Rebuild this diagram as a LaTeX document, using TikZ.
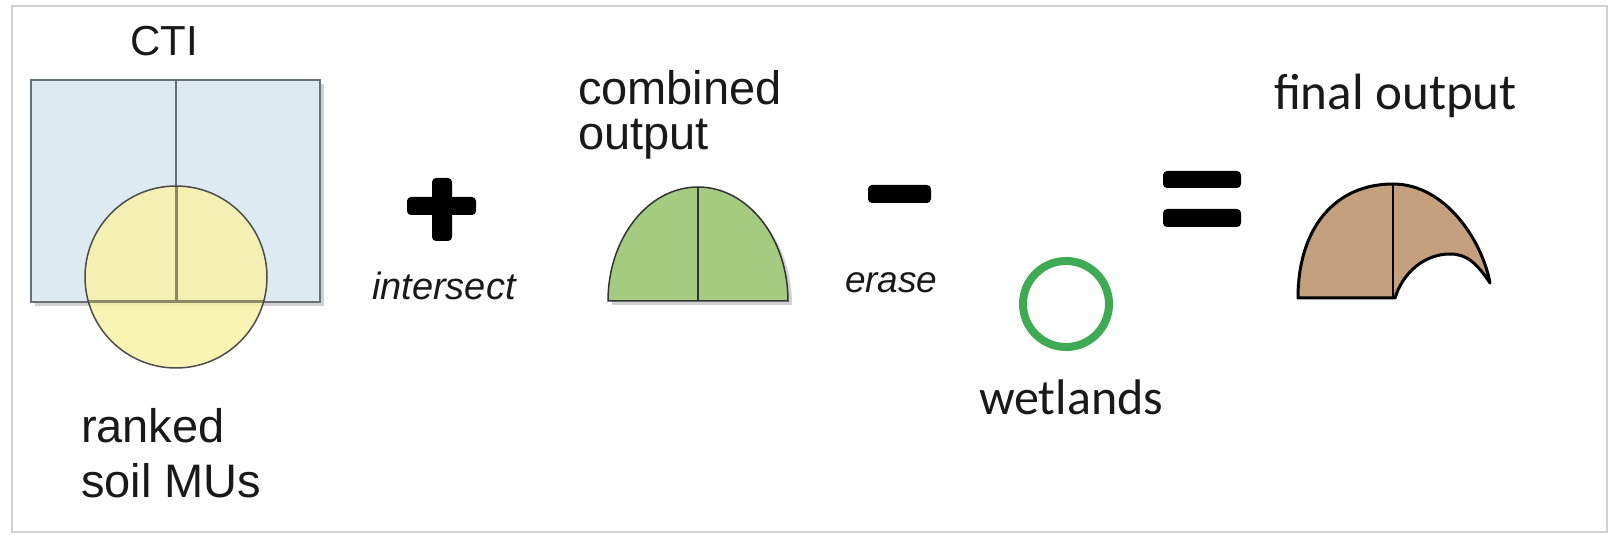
\documentclass[tikz,border=0pt]{standalone}
\usepackage{fontspec}
\setmainfont{Liberation Sans}
\newfontfamily\calibfont{Carlito}
\definecolor{ctiblue}{RGB}{222,234,242}
\definecolor{soilyel}{RGB}{248,242,168}
\definecolor{combgreen}{RGB}{164,203,128}
\definecolor{finaltan}{RGB}{197,160,127}
\definecolor{wetgreen}{RGB}{62,170,84}
\definecolor{edgegray}{RGB}{105,112,118}
\definecolor{olivegray}{RGB}{140,138,100}
\definecolor{txt}{RGB}{25,25,25}
\begin{document}
\begin{tikzpicture}[x=1pt,y=-1pt,
  lbl/.style={inner sep=0pt, outer sep=0pt, text=txt},
  opbar/.style={fill=black, rounded corners=4pt},
  shadowfill/.style={fill=black!18},
]
\useasboundingbox (0,0) rectangle (1610,537);
\fill[white] (0,0) rectangle (1610,537);
% frame
\draw[line width=2.5pt, black!18] (12,6) rectangle (1607,532);

% CTI rectangle and soil circle
\fill[shadowfill] (35,84) rectangle (324,306);
\fill[ctiblue] (31,80) rectangle (320,302);
\draw[edgegray, line width=1.5pt] (31,80) rectangle (320,302);
\draw[edgegray, line width=1.5pt] (176,80) -- (176,302);
\fill[soilyel, fill opacity=0.85] (176,277) circle[radius=91];
\begin{scope}
  \clip (176,277) circle[radius=91];
  \draw[olivegray, line width=3pt] (176,185) -- (176,302);
  \draw[olivegray, line width=3pt] (80,302) -- (272,302);
\end{scope}
\draw[black!70, line width=1.5pt] (176,277) circle[radius=91];

\node[lbl, font=\fontsize{42}{48}\selectfont, anchor=base] (ctilabel) at (164,56) {CTI};
\node[lbl, font=\fontsize{47}{55}\selectfont, align=left, anchor=base west] (soillabel) at (81,497) {ranked\\soil MUs};

% plus
\fill[opbar] (432,178) rectangle (452,241);
\fill[opbar] (407,197) rectangle (476,215);
\node[lbl, font=\fontsize{38}{44}\selectfont\itshape, anchor=base west] (intlabel) at (372,300) {intersect};

% combined output
\fill[shadowfill] (612,305) arc[start angle=180, end angle=360, x radius=90, y radius=114] -- cycle;
\fill[combgreen] (608,301) arc[start angle=180, end angle=360, x radius=90, y radius=114] -- cycle;
\draw[black!80, line width=1.5pt] (608,301) arc[start angle=180, end angle=360, x radius=90, y radius=114] -- cycle;
\draw[black!80, line width=1.2pt] (698,187) -- (698,301);
\node[lbl, font=\fontsize{47}{45}\selectfont, align=left, anchor=base west] (comblabel) at (578,150) {combined\\output};

% minus
\fill[opbar] (868,185) rectangle (931,203);
\node[lbl, font=\fontsize{37}{42}\selectfont\itshape, anchor=base west] (eraselabel) at (845,293) {erase};

% wetlands
\draw[wetgreen, line width=8pt] (1066,304) circle[radius=43];
\node[lbl, font=\calibfont\fontsize{50}{57}\selectfont, anchor=base west] (wetlabel) at (979,414) {wetlands};

% equals
\fill[opbar] (1163,171) rectangle (1241,188);
\fill[opbar] (1163,209) rectangle (1241,227);

% final output
\draw[fill=finaltan, line width=3pt, line join=round]
  (1298,298) .. controls (1298,228) and (1335,184) .. (1393,184)
  .. controls (1445,184) and (1482,240) .. (1490,283)
  .. controls (1476,262) and (1466,254) .. (1450,254)
  .. controls (1425,254) and (1403,272) .. (1395,298)
  -- cycle;
\draw[line width=2.5pt] (1393,184) -- (1393,298);
\node[lbl, font=\calibfont\fontsize{51}{58}\selectfont, anchor=base west] (finallabel) at (1274,110) {final output};
\end{tikzpicture}
\end{document}
